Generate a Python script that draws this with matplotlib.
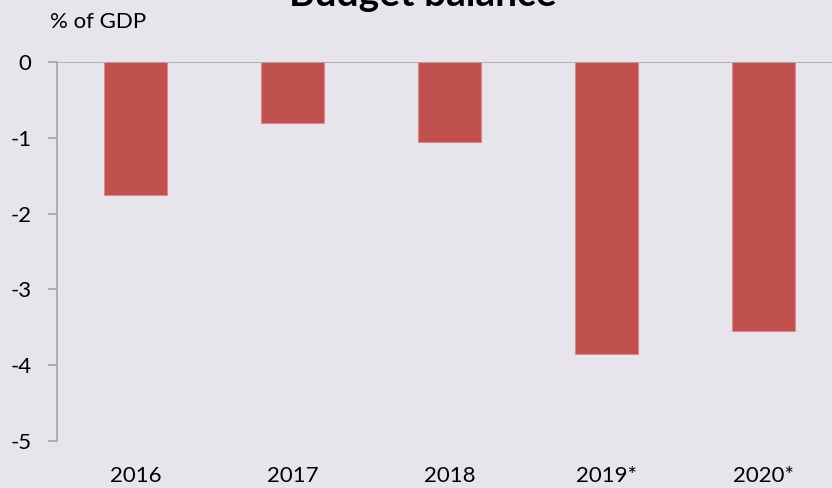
import matplotlib
matplotlib.use("Agg")
import matplotlib.pyplot as plt

# Budget balance, % of GDP
years = ["2016", "2017", "2018", "2019*", "2020*"]
balance = [-1.75, -0.80, -1.05, -3.85, -3.55]
y_ticks = [0, -1, -2, -3, -4, -5]

BG = "#E7E4EC"
BAR = "#C0504D"
AXIS = "#A6A6A6"

plt.rcParams["font.family"] = ["Lato", "DejaVu Sans"]

W, H = 832, 488
fig = plt.figure(figsize=(W / 100, H / 100), dpi=100, facecolor=BG)
ax = fig.add_axes([57 / W, (H - 441) / H, 775 / W, 379 / H], facecolor=BG)

x = range(len(years))
ax.bar(x, balance, width=0.4, color=BAR, edgecolor="#D98A88", linewidth=0.8, zorder=2)

ax.set_xlim(-0.5, -0.5 + 775 / 157)
ax.set_ylim(-5, 0)
ax.set_yticks(y_ticks)
ax.set_yticklabels([str(v) for v in y_ticks])
ax.set_xticks(list(x))
ax.set_xticklabels(years)

for s in ("top", "right", "bottom"):
    ax.spines[s].set_visible(False)
ax.spines["left"].set_color(AXIS)
ax.spines["left"].set_linewidth(1.2)
ax.axhline(0, color=AXIS, linewidth=1.2, zorder=3)

ax.tick_params(axis="y", direction="out", length=6.5, width=1.2, color=AXIS,
               pad=12, labelsize=16, labelcolor="black")
ax.tick_params(axis="x", length=0, pad=18, labelsize=16, labelcolor="black")

fig.text(50 / W, (H - 28) / H, "% of GDP", fontsize=16, va="baseline", ha="left")
fig.text(423 / W, (H - 6) / H, "Budget balance", fontsize=28, fontweight="bold",
         va="baseline", ha="center")

fig.savefig("out.png", dpi=100, facecolor=BG)
